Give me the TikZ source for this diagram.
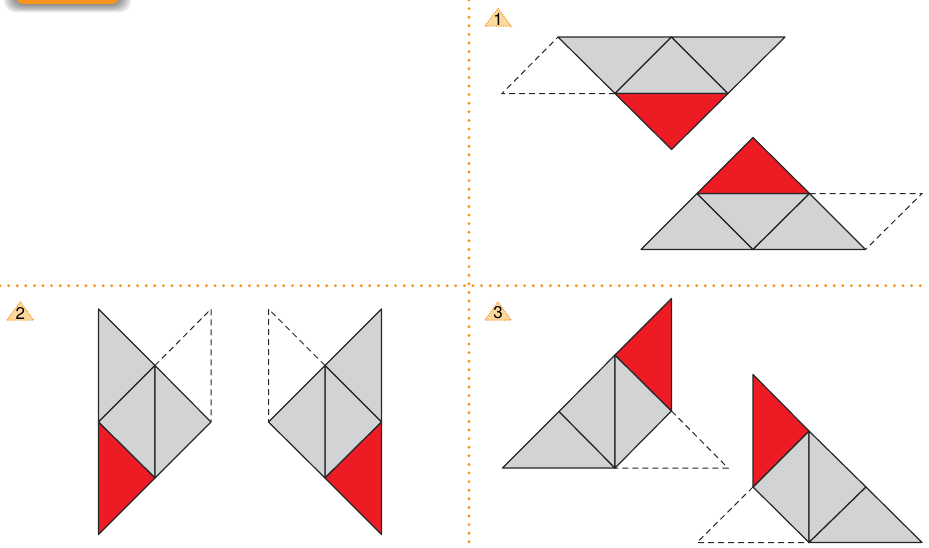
\documentclass[tikz,border=0pt]{standalone}
\usepackage{fontspec}
\setmainfont{TeX Gyre Heros}
\usetikzlibrary{positioning}
\definecolor{tabOrange}{HTML}{F7941D}
\definecolor{badgeFill}{HTML}{FDD9A0}
\definecolor{pieceRed}{HTML}{ED1C24}
\definecolor{pieceGray}{HTML}{D1D3D4}
\tikzset{
  piece/.style={draw=black!85, line width=1.2pt, line join=round},
  grey piece/.style={piece, fill=pieceGray},
  red piece/.style={piece, fill=pieceRed},
  fold/.style={draw=black!85, line width=1pt, dash pattern=on 6pt off 4pt},
  divider/.style={draw=tabOrange, line width=3.2pt, line cap=round, dash pattern=on 0pt off 8.6pt},
  badge/.style={draw=tabOrange, fill=badgeFill, line width=1pt, dash pattern=on 1.2pt off 1.2pt},
  badge num/.style={inner sep=0pt, font=\fontsize{17}{17}\selectfont},
  tab shadow/.style={fill=black, opacity=0.08},
}

\begin{document}
\begin{tikzpicture}[x=1pt,y=-1pt]
        \useasboundingbox (0,0) rectangle (929,547);
        % Tab at the top left, cut by the page edge
        \clip (0,0) rectangle (929,547);
        \foreach \s in {1,...,7}
          \fill[tab shadow, rounded corners=12pt] (15-\s*1.6,-30) rectangle (120+\s*1.6,4+\s*1.2);
        \fill[tabOrange, rounded corners=9pt] (15,-30) rectangle (120,4);
        % Dotted dividers
        \draw[divider] (469,0) -- (469,547);
        \draw[divider] (0,285.7) -- (925,285.7);
        % Badges
        \draw[badge] (485,26) -- (498,8.5) -- (511,26) -- cycle;
        \node[badge num] (n1) at (498,19) {1};
        \draw[badge] (7,320) -- (20.3,302) -- (33.5,320) -- cycle;
        \node[badge num] (n2) at (20.3,313) {2};
        \draw[badge] (485,320) -- (498,302) -- (511,320) -- cycle;
        \node[badge num] (n3) at (498,313) {3};

        % Exercise 1, upper shape
        \coordinate (A) at (558,37);
        \coordinate (B) at (671.5,37);
        \coordinate (C) at (785,37);
        \coordinate (D) at (615,93.5);
        \coordinate (E) at (728,93.5);
        \coordinate (F) at (671.5,149.5);
        \coordinate (G) at (502,93.5);
        \draw[fold] (D) -- (G) -- (A);
        \draw[grey piece] (A) -- (B) -- (D) -- cycle;
        \draw[grey piece] (B) -- (E) -- (D) -- cycle;
        \draw[grey piece] (B) -- (C) -- (E) -- cycle;
        \draw[red piece] (D) -- (E) -- (F) -- cycle;
        % Exercise 1, lower shape
        \coordinate (H) at (753,137.5);
        \coordinate (I) at (697,193.5);
        \coordinate (J) at (809.5,193.5);
        \coordinate (K) at (641,249.5);
        \coordinate (L) at (753,249.5);
        \coordinate (M) at (865.5,249.5);
        \coordinate (N) at (922,193.5);
        \draw[fold] (J) -- (N) -- (M);
        \draw[grey piece] (K) -- (L) -- (I) -- cycle;
        \draw[grey piece] (I) -- (J) -- (L) -- cycle;
        \draw[grey piece] (L) -- (M) -- (J) -- cycle;
        \draw[red piece] (I) -- (J) -- (H) -- cycle;

        % Exercise 2, left shape
        \coordinate (P1) at (98.5,309);
        \coordinate (P2) at (98.5,422);
        \coordinate (P3) at (98.5,534.5);
        \coordinate (P4) at (155,365.5);
        \coordinate (P5) at (155,478);
        \coordinate (P6) at (211,422);
        \coordinate (P7) at (211,309);
        \draw[fold] (P4) -- (P7) -- (P6);
        \draw[grey piece] (P1) -- (P4) -- (P2) -- cycle;
        \draw[grey piece] (P2) -- (P4) -- (P5) -- cycle;
        \draw[grey piece] (P4) -- (P6) -- (P5) -- cycle;
        \draw[red piece] (P2) -- (P5) -- (P3) -- cycle;
        % Exercise 2, right shape
        \coordinate (Q1) at (381.5,309);
        \coordinate (Q2) at (381.5,422);
        \coordinate (Q3) at (381.5,534.5);
        \coordinate (Q4) at (325,365.5);
        \coordinate (Q5) at (325,478);
        \coordinate (Q6) at (268.5,422);
        \coordinate (Q7) at (268.5,309);
        \draw[fold] (Q4) -- (Q7) -- (Q6);
        \draw[grey piece] (Q1) -- (Q4) -- (Q2) -- cycle;
        \draw[grey piece] (Q2) -- (Q4) -- (Q5) -- cycle;
        \draw[grey piece] (Q4) -- (Q6) -- (Q5) -- cycle;
        \draw[red piece] (Q2) -- (Q5) -- (Q3) -- cycle;

        % Exercise 3, left shape
        \coordinate (R1) at (502.5,468);
        \coordinate (R2) at (615,468);
        \coordinate (R3) at (559,411.5);
        \coordinate (R4) at (615,355);
        \coordinate (R5) at (671.5,411);
        \coordinate (R6) at (671.5,298.5);
        \coordinate (R7) at (728,468);
        \draw[fold] (R5) -- (R7) -- (R2);
        \draw[grey piece] (R1) -- (R2) -- (R3) -- cycle;
        \draw[grey piece] (R3) -- (R4) -- (R2) -- cycle;
        \draw[grey piece] (R4) -- (R5) -- (R2) -- cycle;
        \draw[red piece] (R4) -- (R6) -- (R5) -- cycle;
        % Exercise 3, right shape
        \coordinate (S1) at (753,374.5);
        \coordinate (S2) at (753,487);
        \coordinate (S3) at (809,431);
        \coordinate (S4) at (809,542.5);
        \coordinate (S5) at (866,487);
        \coordinate (S6) at (922,542.5);
        \coordinate (S7) at (697,542.5);
        \draw[fold] (S2) -- (S7) -- (S4);
        \draw[grey piece] (S2) -- (S3) -- (S4) -- cycle;
        \draw[grey piece] (S3) -- (S5) -- (S4) -- cycle;
        \draw[grey piece] (S4) -- (S5) -- (S6) -- cycle;
        \draw[red piece] (S1) -- (S3) -- (S2) -- cycle;
    \end{tikzpicture}
\end{document}
